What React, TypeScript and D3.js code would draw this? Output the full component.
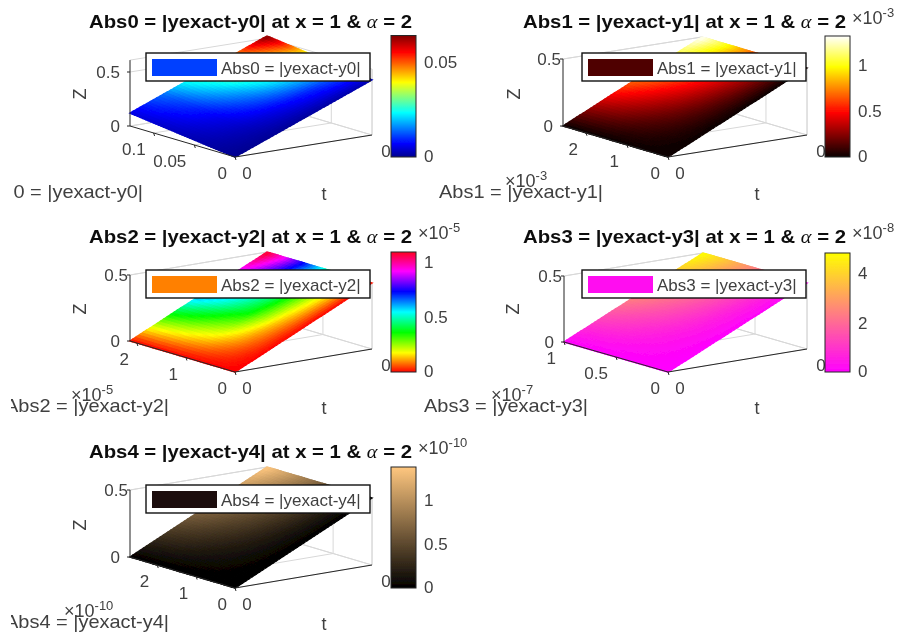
import React from "react";
import * as d3 from "d3";

// ---------- data ----------
const names = ["Abs0", "Abs1", "Abs2", "Abs3", "Abs4"];
const expr = ["|yexact-y0|", "|yexact-y1|", "|yexact-y2|", "|yexact-y3|", "|yexact-y4|"];
const colourMax = [0.0642, 1.31, 1.09, 4.8, 1.37];
const colourTicks = [[0, 0.05], [0, 0.5, 1], [0, 0.5, 1], [0, 2, 4], [0, 0.5, 1]];
const colourExp = ["", "-3", "-5", "-8", "-10"];
const uExp = ["", "-3", "-5", "-7", "-10"];
const uMax = [0.129, 2.56, 2.14, 1.0, 2.7];
const uTicks = [[0, 0.05, 0.1], [0, 1, 2], [0, 1, 2], [0, 0.5, 1], [0, 1, 2]];
const zTop = [0.61, 0.5, 0.5, 0.5, 0.5];
const zTicks = [[0, 0.5], [0, 0.5], [0, 0.5], [0, 0.5], [0, 0.5]];
// plane heights of the surface at (u=max,t=0) and (u=0,t=max)
const zAtLeft = [0.12, 0, 0, 0, 0];
const zAtRight = [0.51, 0.5, 0.5, 0.5, 0.5];

// colour value as fraction of colour bar: rows u = 0..max, cols t = 0..max
const colourGrid0 = [
  [0, 0.005, 0.01, 0.02, 0.03],
  [0.02, 0.05, 0.1, 0.16, 0.24],
  [0.04, 0.1, 0.22, 0.36, 0.5],
  [0.06, 0.16, 0.34, 0.56, 0.75],
  [0.08, 0.22, 0.45, 0.72, 1],
];
const colourGrid1 = [
  [0, 0, 0, 0, 0.005],
  [0, 0.06, 0.12, 0.19, 0.25],
  [0, 0.12, 0.25, 0.37, 0.5],
  [0, 0.19, 0.37, 0.56, 0.75],
  [0, 0.25, 0.5, 0.75, 1],
];
const colourGrid2 = [
  [0, 0, 0, 0, 0],
  [0, 0.08, 0.14, 0.2, 0.26],
  [0, 0.16, 0.33, 0.42, 0.52],
  [0, 0.22, 0.44, 0.62, 0.76],
  [0, 0.27, 0.55, 0.78, 1],
];
const colourGrid3 = [
  [0, 0, 0.01, 0.02, 0.03],
  [0, 0.06, 0.12, 0.19, 0.26],
  [0, 0.12, 0.25, 0.37, 0.5],
  [0, 0.19, 0.37, 0.56, 0.75],
  [0, 0.25, 0.5, 0.75, 1],
];
const colourGrid4 = [
  [0, 0, 0, 0, 0.005],
  [0, 0.06, 0.12, 0.19, 0.25],
  [0, 0.12, 0.25, 0.37, 0.5],
  [0, 0.19, 0.37, 0.56, 0.75],
  [0, 0.25, 0.5, 0.75, 1],
];
const colourGrids = [colourGrid0, colourGrid1, colourGrid2, colourGrid3, colourGrid4];

const jetStops = ["#00008f", "#0000ff", "#00ffff", "#ffff00", "#ff0000", "#800000"];
const jetAt = [0, 0.11, 0.365, 0.615, 0.865, 1];
const hotStops = ["#0a0000", "#ff0000", "#ffff00", "#ffffff"];
const hotAt = [0, 0.365, 0.746, 1];
const hsvStops = ["#ff0000", "#ffff00", "#00ff00", "#00ffff", "#0000ff", "#ff00ff", "#ff0020"];
const hsvAt = [0, 0.16, 0.33, 0.5, 0.67, 0.84, 1];
const springStops = ["#ff00ff", "#ffff00"];
const springAt = [0, 1];
const copperStops = ["#000000", "#ffc77f"];
const copperAt = [0, 1];
const mapStops = [jetStops, hotStops, hsvStops, springStops, copperStops];
const mapAt = [jetAt, hotAt, hsvAt, springAt, copperAt];
const legendPatch = ["#0440ff", "#500000", "#ff8000", "#ff10f0", "#1a100a"];

// ---------- layout ----------
const axisDark = "#262626";
const textGrey = "#404040";
const layout = [
  { ox: 235, oy: 157, lx: -105, ly: -31, rx: 137, ry: -22, zPx: 108, cbX: 391, cbTop: 35.5, cbBot: 157, titleX: 89, titleY: 28, legX: 146, legY: 53, botEnd: 143, botY: 198, zLabX: 80, zLabY: 94, tLabX: 324, topDx: -10, expX: 0, expY: 0, uExpX: 0, uExpY: 0, legTx: 221, clip: "clipA" },
  { ox: 668, oy: 157, lx: -105, ly: -31, rx: 139, ry: -22, zPx: 134, cbX: 825, cbTop: 36, cbBot: 157, titleX: 523, titleY: 28, legX: 582, legY: 53, botEnd: 603, botY: 198, zLabX: 514, zLabY: 94, tLabX: 757, topDx: -2, expX: 852, expY: 24, uExpX: 505, uExpY: 187, legTx: 657, clip: "clipB" },
  { ox: 235, oy: 372, lx: -105, ly: -31, rx: 137, ry: -23, zPx: 132, cbX: 391, cbTop: 252, cbBot: 372, titleX: 89, titleY: 243, legX: 146, legY: 270, botEnd: 169, botY: 412, zLabX: 80, zLabY: 309, tLabX: 324, topDx: -2, expX: 418, expY: 239, uExpX: 71, uExpY: 401, legTx: 221, clip: "clipB" },
  { ox: 668, oy: 372, lx: -104, ly: -30, rx: 139, ry: -23, zPx: 132, cbX: 825, cbTop: 253, cbBot: 372, titleX: 523, titleY: 243, legX: 582, legY: 270, botEnd: 588, botY: 412, zLabX: 513, zLabY: 309, tLabX: 757, topDx: -2, expX: 852, expY: 239, uExpX: 491, uExpY: 401, legTx: 657, clip: "clipB" },
  { ox: 235, oy: 588, lx: -105, ly: -31, rx: 137, ry: -23, zPx: 134, cbX: 391, cbTop: 467, cbBot: 588, titleX: 89, titleY: 458, legX: 146, legY: 485, botEnd: 169, botY: 628, zLabX: 80, zLabY: 525, tLabX: 324, topDx: -2, expX: 418, expY: 454, uExpX: 64, uExpY: 617, legTx: 221, clip: "clipB" },
];
const sans = "'Liberation Sans', Arial, sans-serif";
const SUB = 40;

function bilinear(grid: number[][], a: number, b: number) {
  const n = grid.length - 1;
  const i = Math.min(Math.floor(a * n), n - 1);
  const j = Math.min(Math.floor(b * n), n - 1);
  const fa = a * n - i;
  const fb = b * n - j;
  return (
    grid[i][j] * (1 - fa) * (1 - fb) +
    grid[i + 1][j] * fa * (1 - fb) +
    grid[i][j + 1] * (1 - fa) * fb +
    grid[i + 1][j + 1] * fa * fb
  );
}

function Exponent({ x, y, e }: { x: number; y: number; e: string }) {
  if (!e) return null;
  return (
    <text x={x} y={y} fontFamily={sans} fontSize={18} fill={textGrey}>
      ×10<tspan dy={-7} fontSize={13}>{e}</tspan>
    </text>
  );
}

function Panel({ k }: { k: number }) {
  const L = layout[k];
  const uS = d3.scaleLinear().domain([0, uMax[k]]).range([0, 1]);
  const zS = d3.scaleLinear().domain([0, 1]).range([0, L.zPx]);
  const colour = d3
    .scaleLinear<string>()
    .domain(mapAt[k])
    .range(mapStops[k])
    .interpolate(d3.interpolateRgb);
  const cb = d3.scaleLinear().domain([0, colourMax[k]]).range([L.cbBot, L.cbTop]);

  // a, b in [0,1]: fractions along u and t, z in data units
  const proj = (a: number, b: number, z: number): [number, number] => [
    L.ox + a * L.lx + b * L.rx,
    L.oy + a * L.ly + b * L.ry - zS(z),
  ];
  const line = d3.line();
  const seg = (p: [number, number], q: [number, number], c: string, w = 1, key?: any) => (
    <path key={key} d={line([p, q]) as string} stroke={c} strokeWidth={w} fill="none" />
  );
  const grey = "#d8d8d8";

  const cells: React.ReactElement[] = [];
  const zPlane = (a: number, b: number) => a * zAtLeft[k] + b * zAtRight[k];
  for (let i = 0; i < SUB; i++) {
    for (let j = 0; j < SUB; j++) {
      const a0 = i / SUB, a1 = (i + 1) / SUB, b0 = j / SUB, b1 = (j + 1) / SUB;
      const pts = [
        proj(a0, b0, zPlane(a0, b0)),
        proj(a1, b0, zPlane(a1, b0)),
        proj(a1, b1, zPlane(a1, b1)),
        proj(a0, b1, zPlane(a0, b1)),
      ];
      const c = colour(bilinear(colourGrids[k], (a0 + a1) / 2, (b0 + b1) / 2));
      cells.push(
        <path key={`${i}-${j}`} d={(line(pts) as string) + "Z"} fill={c} stroke={c} strokeWidth={1.4} />
      );
    }
  }

  const top = zTop[k];
  const legendW = 224;
  const legendH = 28;
  const label = `${names[k]} = ${expr[k]}`;
  const gradId = `cb${k}`;

  return (
    <g>
      {/* back walls and floor */}
      {seg(proj(1, 0, top), proj(1, 1, top), grey)}
      {seg(proj(1, 1, top), proj(0, 1, top), grey)}
      {seg(proj(1, 1, 0), proj(1, 1, top), grey)}
      {seg(proj(0, 1, 0), proj(0, 1, top), grey)}
      {seg(proj(1, 0, 0), proj(1, 1, 0), grey)}
      {seg(proj(0, 1, 0), proj(1, 1, 0), grey)}
      {zTicks[k].map((z, i) => (
        <g key={i}>
          {seg(proj(1, 0, z), proj(1, 1, z), grey)}
          {seg(proj(1, 1, z), proj(0, 1, z), grey)}
        </g>
      ))}
      {uTicks[k].map((u, i) => (
        <g key={i}>
          {seg(proj(uS(u), 0, 0), proj(uS(u), 1, 0), grey)}
          {seg(proj(uS(u), 1, 0), proj(uS(u), 1, top), grey)}
        </g>
      ))}
      {cells}
      {/* dark axes */}
      {seg(proj(0, 0, 0), proj(1, 0, 0), axisDark)}
      {seg(proj(0, 0, 0), proj(0, 1, 0), axisDark)}
      {seg(proj(1, 0, 0), proj(1, 0, top), axisDark)}
      {zTicks[k].map((z, i) => {
        const [px, py] = proj(1, 0, z);
        return (
          <g key={i}>
            {seg([px, py], [px - 3, py], axisDark)}
            <text
              x={px + (z > 0 ? L.topDx : -10)}
              y={py}
              dy="0.36em"
              textAnchor="end"
              fontFamily={sans}
              fontSize={17}
              fill={textGrey}
            >
              {z}
            </text>
          </g>
        );
      })}
      {uTicks[k].map((u, i) => {
        const [px, py] = proj(uS(u), 0, 0);
        return (
          <g key={i}>
            {seg([px, py], [px + 1, py + 3], axisDark)}
            <text x={px - 8} y={py + 22} textAnchor="end" fontFamily={sans} fontSize={17} fill={textGrey}>
              {u}
            </text>
          </g>
        );
      })}
      {[0, 1].map((b, i) => {
        const [px, py] = proj(0, b, 0);
        return (
          <text key={i} x={px + (b ? 14 : 12)} y={py + 22} textAnchor="middle" fontFamily={sans} fontSize={17} fill={textGrey}>
            0
          </text>
        );
      })}
      {/* axis labels */}
      <text x={L.tLabX} y={L.botY + 2} textAnchor="middle" fontFamily={sans} fontSize={18} fill={textGrey}>t</text>
      <text
        transform={`translate(${L.zLabX + 6},${L.zLabY}) rotate(-90)`}
        textAnchor="middle"
        fontFamily={sans}
        fontSize={18}
        fill={textGrey}
      >
        Z
      </text>
      {/* colour bar */}
      <defs>
        <linearGradient id={gradId} x1="0" y1="1" x2="0" y2="0">
          {mapAt[k].map((o, i) => (
            <stop key={i} offset={o} stopColor={mapStops[k][i]} />
          ))}
        </linearGradient>
      </defs>
      <rect x={L.cbX} y={L.cbTop} width={25} height={L.cbBot - L.cbTop} fill={`url(#${gradId})`} stroke={axisDark} strokeWidth={1} />
      {colourTicks[k].map((v, i) => (
        <text
          key={i}
          x={L.cbX + 33}
          y={cb(v)}
          dy={v === 0 ? "0.3em" : "0.36em"}
          fontFamily={sans}
          fontSize={17}
          fill={textGrey}
        >
          {v}
        </text>
      ))}
      <Exponent x={L.expX} y={L.expY} e={colourExp[k]} />
      {/* title */}
      <text
        x={L.titleX}
        y={L.titleY}
        textLength={323}
        lengthAdjust="spacingAndGlyphs"
        fontFamily={sans}
        fontWeight="bold"
        fontSize={19}
        fill="#111"
      >
        {`${names[k]} = ${expr[k]} at x = 1 & `}
        <tspan fontFamily="'Liberation Serif', serif" fontStyle="italic" fontWeight="normal" fontSize={19}>α</tspan>
        {" = 2"}
      </text>
      {/* bottom label, cut off at the left of the figure */}
      <g clipPath={`url(#${L.clip})`}>
        <text
          x={L.botEnd - 164}
          y={L.botY}
          textLength={164}
          lengthAdjust="spacingAndGlyphs"
          fontFamily={sans}
          fontSize={18.5}
          fill={textGrey}
        >
          {label}
        </text>
      </g>
      <Exponent x={L.uExpX} y={L.uExpY} e={uExp[k]} />
      {/* legend */}
      <rect x={L.legX} y={L.legY} width={legendW} height={legendH} fill="#fff" stroke="#111" strokeWidth={1.4} />
      <rect x={L.legX + 6} y={L.legY + 6} width={65} height={17} fill={legendPatch[k]} />
      <text x={L.legTx} y={L.legY + 21} fontFamily={sans} fontSize={17} fill={textGrey}>
        {label}
      </text>
    </g>
  );
}

export default function App() {
  return (
    <svg
      width={899}
      height={639}
      viewBox="0 0 899 639"
      style={{ position: "absolute", left: 0, top: 0, background: "#fff" }}
    >
      <defs>
        <clipPath id="clipA" clipPathUnits="userSpaceOnUse">
          <rect x={13} y={0} width={886} height={639} />
        </clipPath>
        <clipPath id="clipB" clipPathUnits="userSpaceOnUse">
          <rect x={11} y={0} width={888} height={639} />
        </clipPath>
        <filter id="soft" x="0" y="0" width="100%" height="100%">
          <feGaussianBlur stdDeviation={0.55} />
        </filter>
      </defs>
      <g filter="url(#soft)">
        {names.map((_, k) => (
          <Panel key={k} k={k} />
        ))}
      </g>
    </svg>
  );
}
